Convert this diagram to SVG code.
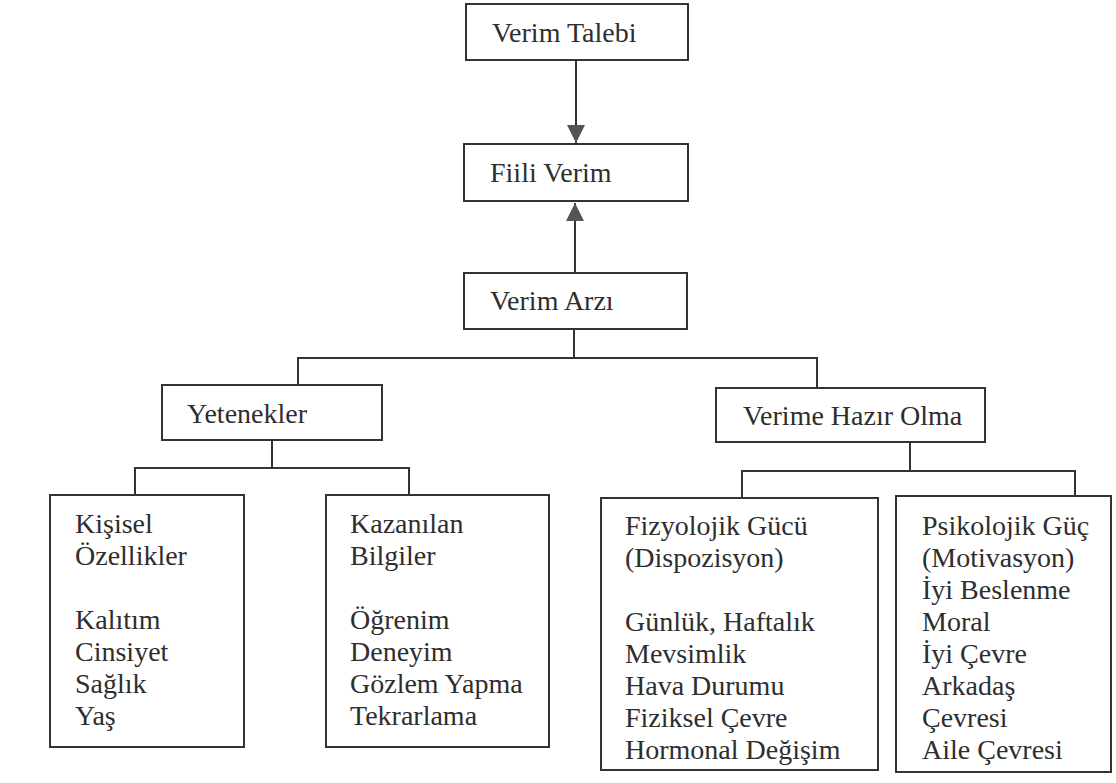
<svg xmlns="http://www.w3.org/2000/svg" width="1116" height="783" viewBox="0 0 1116 783">
<style>
.box{fill:#fff;stroke:#333;stroke-width:2}
.ln{stroke:#333;stroke-width:2;fill:none}
text{font-family:"Liberation Serif","Times New Roman",serif;font-size:28px;fill:#2e2e2e}
</style>
<defs>
<marker id="arr" viewBox="0 0 18 18" refX="18" refY="9" markerWidth="18" markerHeight="18" orient="auto" markerUnits="userSpaceOnUse">
<path d="M0,0 L18,9 L0,18 z" fill="#555"/>
</marker>
</defs>
<rect width="1116" height="783" fill="#fff"/>
<g id="connectors">
<line class="ln" x1="576" y1="60" x2="576" y2="143" marker-end="url(#arr)"/>
<line class="ln" x1="575" y1="273" x2="575" y2="203" marker-end="url(#arr)"/>
<line class="ln" x1="574" y1="329" x2="574" y2="358"/>
<polyline class="ln" points="298,385 298,358 817,358 817,388"/>
<line class="ln" x1="272" y1="440" x2="272" y2="468"/>
<polyline class="ln" points="135,495 135,468 409,468 409,495"/>
<line class="ln" x1="910" y1="442" x2="910" y2="471"/>
<polyline class="ln" points="742,498 742,471 1075,471 1075,496"/>
</g>
<g id="verim-talebi">
<rect class="box" x="466" y="4" width="222" height="56"/>
<text x="492" y="42">Verim Talebi</text>
</g>
<g id="fiili-verim">
<rect class="box" x="464" y="144" width="224" height="57"/>
<text x="490" y="182">Fiili Verim</text>
</g>
<g id="verim-arzi">
<rect class="box" x="464" y="273" width="223" height="56"/>
<text x="490" y="310">Verim Arzı</text>
</g>
<g id="yetenekler">
<rect class="box" x="162" y="385" width="220" height="55"/>
<text x="187" y="423">Yetenekler</text>
</g>
<g id="verime-hazir-olma">
<rect class="box" x="716" y="388" width="269" height="54"/>
<text x="743" y="425">Verime Hazır Olma</text>
</g>
<g id="kisisel-ozellikler">
<rect class="box" x="50" y="495" width="194" height="252"/>
<text x="75" y="533">Kişisel</text>
<text x="75" y="565">Özellikler</text>
<text x="75" y="629">Kalıtım</text>
<text x="75" y="661">Cinsiyet</text>
<text x="75" y="693">Sağlık</text>
<text x="75" y="725">Yaş</text>
</g>
<g id="kazanilan-bilgiler">
<rect class="box" x="326" y="495" width="223" height="252"/>
<text x="350" y="533">Kazanılan</text>
<text x="350" y="565">Bilgiler</text>
<text x="350" y="629">Öğrenim</text>
<text x="350" y="661">Deneyim</text>
<text x="350" y="693">Gözlem Yapma</text>
<text x="350" y="725">Tekrarlama</text>
</g>
<g id="fizyolojik-guc">
<rect class="box" x="601" y="498" width="277" height="272"/>
<text x="625" y="535">Fizyolojik Gücü</text>
<text x="625" y="567">(Dispozisyon)</text>
<text x="625" y="631">Günlük, Haftalık</text>
<text x="625" y="663">Mevsimlik</text>
<text x="625" y="695">Hava Durumu</text>
<text x="625" y="727">Fiziksel Çevre</text>
<text x="625" y="759">Hormonal Değişim</text>
</g>
<g id="psikolojik-guc">
<rect class="box" x="896" y="496" width="215" height="276"/>
<text x="922" y="535">Psikolojik Güç</text>
<text x="922" y="567">(Motivasyon)</text>
<text x="922" y="599">İyi Beslenme</text>
<text x="922" y="631">Moral</text>
<text x="922" y="663">İyi Çevre</text>
<text x="922" y="695">Arkadaş</text>
<text x="922" y="727">Çevresi</text>
<text x="922" y="759">Aile Çevresi</text>
</g>
</svg>
